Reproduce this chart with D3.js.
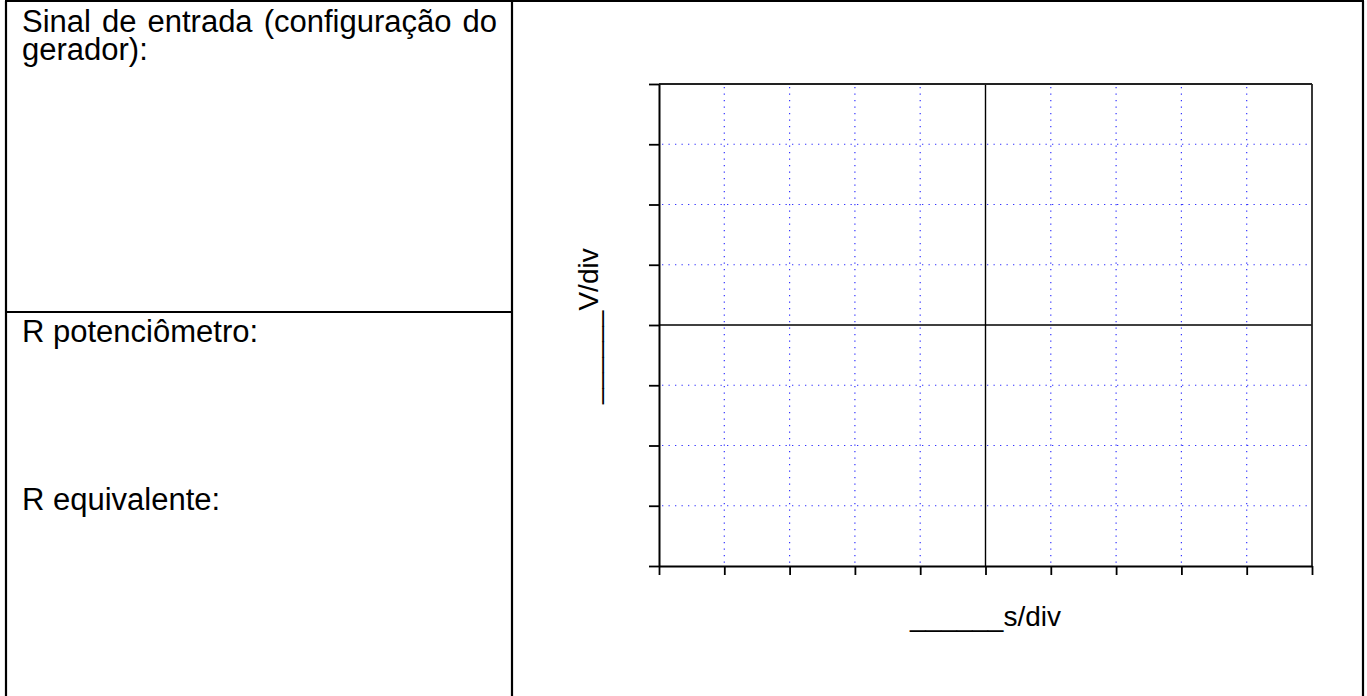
<!DOCTYPE html>
<html>
<head>
<meta charset="utf-8">
<script src="https://cdn.jsdelivr.net/npm/d3@7"></script>
<style>
  html, body { margin: 0; padding: 0; background: #fff; }
  svg { display: block; }
  text { font-family: "Liberation Sans", Arial, sans-serif; fill: #000; }
</style>
</head>
<body>
<svg id="chart" width="1367" height="696"></svg>
<script>
// ---- data ----
const timeDivisions = [0, 1, 2, 3, 4, 5, 6, 7, 8, 9, 10];
const voltDivisions = [-4, -3, -2, -1, 0, 1, 2, 3, 4];
const centerTime = 5;
const centerVolt = 0;
const headerLine1 = ["Sinal", "de", "entrada", "(configuração", "do"];
const headerLine2 = "gerador):";
const fieldLabels = ["R potenciômetro:", "R equivalente:"];
const xAxisLabel = "______s/div";
const yAxisLabel = "______V/div";

const svg = d3.select("#chart");

// ---- table frame ----
const table = svg.append("g");
const frame = [
  [6, 1, 6, 696],        // left border
  [5, 1, 1364, 1],       // top border
  [512, 1, 512, 696],    // middle divider
  [1363, 1, 1363, 696],  // right border
  [6, 312, 512, 312]     // divider in left cell
];
table.selectAll("line").data(frame).join("line")
  .attr("x1", d => d[0]).attr("y1", d => d[1])
  .attr("x2", d => d[2]).attr("y2", d => d[3])
  .attr("stroke", "#000").attr("stroke-width", 2.2);

// ---- left column text ----
const fs = 31;
const left = 22, right = 497;
const l1 = svg.append("g");
const words = l1.selectAll("text").data(headerLine1).join("text")
  .attr("y", 32).attr("font-size", fs).text(d => d);
const widths = [];
words.each(function() { widths.push(this.getComputedTextLength()); });
const totalW = d3.sum(widths);
const gap = (right - left - totalW) / (headerLine1.length - 1);
let cx = left;
words.attr("x", (d, i) => { const x = cx; cx += widths[i] + gap; return x; });

svg.append("text").attr("x", left).attr("y", 60).attr("font-size", fs).text(headerLine2);
svg.selectAll("text.field").data(fieldLabels).join("text")
  .attr("class", "field")
  .attr("x", left)
  .attr("y", (d, i) => [342, 510][i])
  .attr("font-size", fs)
  .text(d => d);

// ---- oscilloscope grid ----
const x = d3.scaleLinear().domain([0, 10]).range([659, 1312]);
const y = d3.scaleLinear().domain([-4, 4]).range([566, 84]);

const grid = svg.append("g");
grid.selectAll("line.vg").data(timeDivisions.filter(d => d > 0 && d < 10 && d !== centerTime))
  .join("line").attr("class", "vg")
  .attr("x1", d => x(d)).attr("x2", d => x(d))
  .attr("y1", y(4) + 3).attr("y2", y(-4))
  .attr("stroke", "#3333ff").attr("stroke-width", 1.2)
  .attr("stroke-dasharray", "1.3,5.2");
grid.selectAll("line.hg").data(voltDivisions.filter(d => d > -4 && d < 4 && d !== centerVolt))
  .join("line").attr("class", "hg")
  .attr("x1", x(0) + 3).attr("x2", x(10))
  .attr("y1", d => y(d)).attr("y2", d => y(d))
  .attr("stroke", "#3333ff").attr("stroke-width", 1.2)
  .attr("stroke-dasharray", "1.3,5.2");

// center cross
grid.append("line")
  .attr("x1", x(centerTime)).attr("x2", x(centerTime))
  .attr("y1", y(4)).attr("y2", y(-4))
  .attr("stroke", "#000").attr("stroke-width", 1.4);
grid.append("line")
  .attr("x1", x(0)).attr("x2", x(10))
  .attr("y1", y(centerVolt)).attr("y2", y(centerVolt))
  .attr("stroke", "#000").attr("stroke-width", 1.4);

// plot frame (top, right)
grid.append("line").attr("x1", x(0)).attr("x2", x(10)).attr("y1", y(4)).attr("y2", y(4))
  .attr("stroke", "#222").attr("stroke-width", 1.8);
grid.append("line").attr("x1", x(10)).attr("x2", x(10)).attr("y1", y(4)).attr("y2", y(-4))
  .attr("stroke", "#222").attr("stroke-width", 1.8);

// axes
const yAxis = d3.axisLeft(y).tickValues(voltDivisions).tickSize(10).tickSizeOuter(0).tickFormat("");
const xAxis = d3.axisBottom(x).tickValues(timeDivisions).tickSize(9).tickSizeOuter(0).tickFormat("");
const gy = svg.append("g").attr("transform", `translate(${x(0)},0)`).call(yAxis);
const gx = svg.append("g").attr("transform", `translate(0,${y(-4)})`).call(xAxis);
[gx, gy].forEach(g => {
  g.select(".domain").attr("stroke", "#000").attr("stroke-width", 2);
  g.selectAll(".tick line").attr("stroke", "#000").attr("stroke-width", 1.8);
});

// axis labels
svg.append("text").attr("x", 910).attr("y", 626).attr("font-size", 28).text(xAxisLabel);
svg.append("text").attr("transform", "translate(598,404) rotate(-90)")
  .attr("font-size", 28).text(yAxisLabel);
</script>
</body>
</html>
